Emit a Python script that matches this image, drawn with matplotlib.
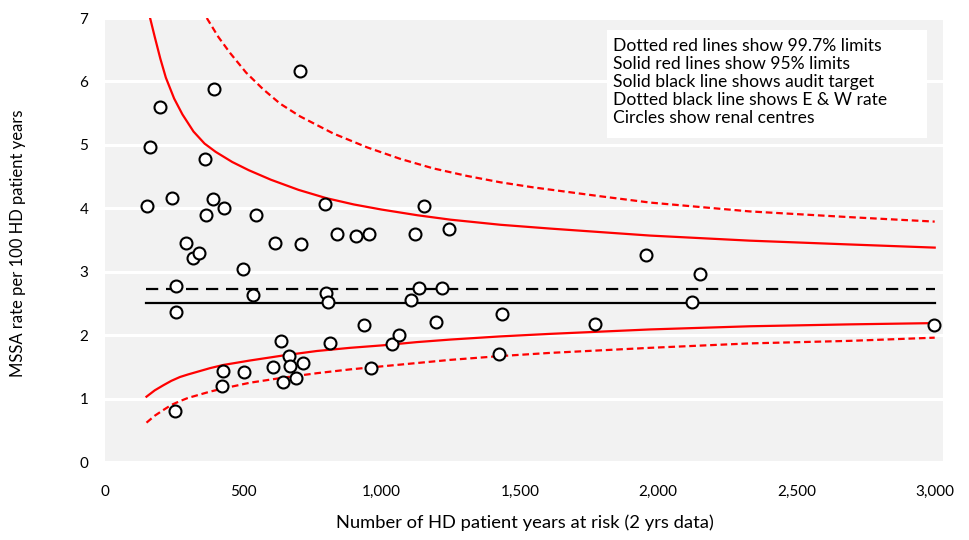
import matplotlib
matplotlib.use('Agg')
import matplotlib.pyplot as plt
from matplotlib.patches import Rectangle
from matplotlib.ticker import FuncFormatter

plt.rcParams['font.family'] = ['Lato', 'DejaVu Sans']

# Renal centres: HD patient years at risk (2 yrs data) and MSSA rate per 100 HD patient years
centre_years = [152, 163, 199, 242, 257, 257, 253, 293, 318, 340, 362, 365, 391, 394,
                430, 427, 423, 499, 503, 535, 546, 615, 608, 637, 644, 665, 669, 691,
                705, 709, 716, 796, 799, 807, 814, 839, 908, 937, 955, 962, 1038, 1063,
                1107, 1121, 1136, 1154, 1197, 1219, 1244, 1425, 1436, 1772, 1957, 2123,
                2152, 2998]
centre_rates = [4.03, 4.97, 5.60, 4.17, 2.78, 2.36, 0.80, 3.46, 3.21, 3.29, 4.78, 3.90,
                4.15, 5.88, 4.00, 1.43, 1.20, 3.05, 1.42, 2.64, 3.90, 3.46, 1.49, 1.90,
                1.26, 1.67, 1.51, 1.32, 6.17, 3.43, 1.56, 4.06, 2.66, 2.52, 1.87, 3.60,
                3.56, 2.16, 3.60, 1.48, 1.86, 2.00, 2.55, 3.60, 2.75, 4.04, 2.20, 2.74,
                3.67, 1.70, 2.33, 2.17, 3.26, 2.53, 2.96, 2.16]

# Reference lines
line_years = [150, 3000]
audit_target = 2.50
ew_rate = 2.72

# 95% limits (solid red)
upper95_years = [163, 180, 200, 220, 250, 280, 320, 360, 400, 460, 520, 600, 700, 800,
                 900, 1000, 1130, 1250, 1430, 1610, 1970, 2330, 2690, 3000]
upper95_rates = [7.00, 6.70, 6.36, 6.06, 5.73, 5.48, 5.21, 5.02, 4.89, 4.73, 4.60, 4.45,
                 4.29, 4.16, 4.06, 3.98, 3.89, 3.82, 3.74, 3.68, 3.57, 3.49, 3.43, 3.38]
lower95_years = [150, 180, 211, 240, 271, 300, 332, 380, 428, 524, 645, 766, 886, 1006,
                 1127, 1248, 1429, 1609, 1971, 2333, 2694, 3000]
lower95_rates = [1.03, 1.13, 1.21, 1.28, 1.34, 1.38, 1.42, 1.48, 1.53, 1.60, 1.68, 1.75,
                 1.80, 1.84, 1.89, 1.93, 1.98, 2.02, 2.09, 2.14, 2.17, 2.19]

# 99.7% limits (dotted red)
upper997_years = [368, 410, 452, 510, 571, 633, 705, 825, 948, 1067, 1186, 1309, 1429,
                  1548, 1790, 1971, 2333, 2694, 3000]
upper997_rates = [7.00, 6.70, 6.45, 6.14, 5.88, 5.65, 5.45, 5.18, 4.96, 4.78, 4.63, 4.51,
                  4.41, 4.33, 4.19, 4.09, 3.95, 3.86, 3.79]
lower997_years = [150, 180, 211, 240, 271, 300, 332, 380, 428, 524, 645, 766, 886, 1006,
                  1127, 1248, 1429, 1609, 1971, 2333, 2694, 3000]
lower997_rates = [0.62, 0.73, 0.82, 0.90, 0.96, 1.01, 1.05, 1.11, 1.16, 1.25, 1.33, 1.40,
                  1.46, 1.51, 1.56, 1.61, 1.67, 1.72, 1.80, 1.87, 1.91, 1.96]

note_lines = [
    'Dotted red lines show 99.7% limits',
    'Solid red lines show 95% limits',
    'Solid black line shows audit target',
    'Dotted black line shows E & W rate',
    'Circles show renal centres',
]

W, H = 969, 540
fig = plt.figure(figsize=(W / 100, H / 100), dpi=100)
ax = fig.add_axes([105 / W, 1 - 462 / H, (943 - 105) / W, (462 - 18) / H])
ax.set_facecolor('#f2f2f2')
for s in ax.spines.values():
    s.set_visible(False)

ax.set_xlim(0, 3030)
ax.set_ylim(0, 7)
ax.set_xticks(range(0, 3001, 500))
ax.set_yticks(range(0, 8))
ax.xaxis.set_major_formatter(FuncFormatter(lambda v, p: f'{int(v):,}'))
ax.grid(axis='y', color='white', linewidth=2.2)
ax.set_axisbelow(True)
ax.tick_params(axis='both', length=0, labelsize=11, colors='black')
ax.tick_params(axis='x', pad=16.5)
ax.tick_params(axis='y', pad=12)

red = '#ff0000'
ax.plot(upper997_years, upper997_rates, color=red, lw=1.6, dashes=(3, 1.7))
ax.plot(lower997_years, lower997_rates, color=red, lw=1.6, dashes=(3, 1.7))
ax.plot(upper95_years, upper95_rates, color=red, lw=1.6)
ax.plot(lower95_years, lower95_rates, color=red, lw=1.6)

ax.plot(line_years, [ew_rate, ew_rate], color='black', lw=1.6, dashes=(5.5, 3.5))
ax.plot(line_years, [audit_target, audit_target], color='black', lw=1.6)

ax.plot(centre_years, centre_rates, linestyle='none', marker='o', markersize=8.6,
        markerfacecolor='white', markeredgecolor='black', markeredgewidth=1.5,
        clip_on=False, zorder=5)

fig.text(525 / W, 1 - 523 / H, 'Number of HD patient years at risk (2 yrs data)',
         fontsize=13.2, ha='center', va='center')
fig.text(18 / W, 1 - 243 / H, 'MSSA rate per 100 HD patient years',
         fontsize=12, ha='center', va='center', rotation=90)

# notes box
fig.patches.append(Rectangle((607 / W, 1 - 138 / H), (927 - 607) / W, (138 - 30) / H,
                             transform=fig.transFigure, facecolor='white',
                             edgecolor='none', zorder=6))
fig.text(613 / W, 1 - 38 / H, '\n'.join(note_lines), fontsize=12.6, va='top',
         ha='left', linespacing=1.16, zorder=7)

fig.savefig('out.png', dpi=100)
